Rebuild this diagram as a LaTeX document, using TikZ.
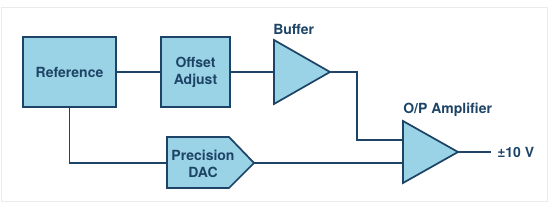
\documentclass[tikz,border=0pt]{standalone}
\usepackage{fontspec}
\setmainfont{TeX Gyre Heros}
\definecolor{edge}{HTML}{1D4466}
\definecolor{fillc}{HTML}{9AD3E6}
\begin{document}
\begin{tikzpicture}[x=0.75pt,y=-0.75pt,
  blk/.style={draw=edge, fill=fillc, line width=1.3pt},
  lbl/.style={font=\bfseries\fontsize{10.5}{12.75}\selectfont, text=edge, align=center},
  wire/.style={draw=edge, line width=1.2pt}]
\useasboundingbox (0,0) rectangle (557,213);
\draw[black!8, line width=0.6pt] (1,7) rectangle (547,201);
% Reference
\node[blk, lbl, minimum width=69.75pt, minimum height=52.5pt] (ref) at (69.5,72) {Reference};
% Offset Adjust
\node[blk, lbl, minimum width=51.75pt, minimum height=52.5pt] (off) at (195.5,72) {Offset\\Adjust};
% Buffer
\path[blk] (274,40) -- (274,104) -- (330,72) -- cycle;
\coordinate (bufin) at (274,72);
\coordinate (bufout) at (330,72);
\node[lbl, anchor=base west, inner sep=0pt] (buflbl) at (273,35) {Buffer};
% O/P Amplifier
\path[blk] (403,121) -- (403,183) -- (458,152) -- cycle;
\coordinate (ampin1) at (403,140);
\coordinate (ampin2) at (403,163);
\coordinate (ampout) at (458,152);
\node[lbl, anchor=base west, inner sep=0pt] (amplbl) at (403,113.5) {O/P Amplifier};
\coordinate (outend) at (491,152);
\node[lbl, anchor=west, inner sep=0pt] (vout) at (497,152) {±10 V};
% Precision DAC
\path[blk] (167,137) -- (229,137) -- (254,163) -- (229,188) -- (167,188) -- cycle;
\node[lbl] (daclbl) at (203,164) {Precision\\DAC};
\coordinate (dacin) at (167,163);
\coordinate (dacout) at (254,163);
% connectors
\coordinate (bend) at (357,72);
\draw[wire] (ref.east) -- (off.west);
\draw[wire] (off.east) -- (bufin);
\draw[wire] (bufout) -- (bend) |- (ampin1);
\draw[wire] (ref.south) |- (dacin);
\draw[wire] (dacout) -- (ampin2);
\draw[wire] (ampout) -- (outend);
\end{tikzpicture}
\end{document}
